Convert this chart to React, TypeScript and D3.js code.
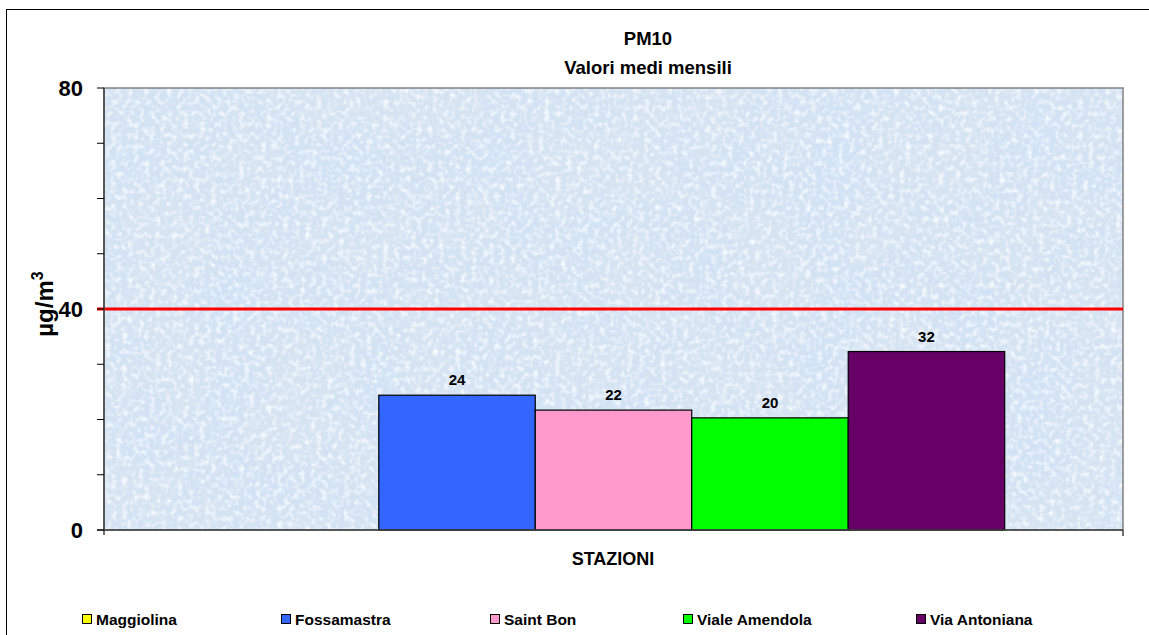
import React from "react";
import * as d3 from "d3";

const title1 = "PM10";
const title2 = "Valori medi mensili";
const categories = ["STAZIONI"];
const seriesNames = ["Maggiolina", "Fossamastra", "Saint Bon", "Viale Amendola", "Via Antoniana"];
const seriesValues: (number | null)[] = [null, 24.4, 21.7, 20.3, 32.3];
const seriesColors = ["#ffff00", "#3366ff", "#ff99cc", "#00ff00", "#660066"];
const yTicks = [0, 40, 80];
const yMinorTicks = [0, 10, 20, 30, 40, 50, 60, 70, 80];
const limitValue = 40;
const legendX = [82, 281, 490, 683, 916];

const W = 1149;
const H = 635;
const FONT = "'Liberation Sans', Arial, Helvetica, sans-serif";

export default function App() {
  const left = 104, right = 1123, top = 88, bottom = 530;
  const y = d3.scaleLinear().domain([0, 80]).range([bottom, top]);
  const x0 = d3.scaleBand<string>().domain(categories).range([left, right]);
  const x1 = d3
    .scaleBand<string>()
    .domain(seriesNames)
    .range([0, x0.bandwidth()])
    .paddingInner(0)
    .paddingOuter(0.756);

  return (
    <div style={{ position: "absolute", left: 0, top: 0 }}>
      <svg width={W} height={H} style={{ display: "block" }} fontFamily={FONT}>
        <defs>
          <filter id="tex" x="0" y="0" width="100%" height="100%">
            <feTurbulence type="fractalNoise" baseFrequency="0.18" numOctaves="2" seed="4" result="n1" />
            <feColorMatrix
              in="n1"
              type="matrix"
              values="0 0 0 0 1  0 0 0 0 1  0 0 0 0 1  0 0 0 2.0 -0.9"
              result="w"
            />
            <feTurbulence type="fractalNoise" baseFrequency="0.015" numOctaves="2" seed="9" result="n2" />
            <feColorMatrix
              in="n2"
              type="matrix"
              values="0 0 0 0 0.62  0 0 0 0 0.76  0 0 0 0 0.93  0 0 0 1.4 -0.55"
              result="b"
            />
            <feFlood floodColor="#d5e3f3" result="base" />
            <feComposite in="b" in2="base" operator="over" result="bb" />
            <feComposite in="w" in2="bb" operator="over" />
          </filter>
        </defs>
        <rect x={0} y={0} width={W} height={H} fill="#ffffff" />
        {/* outer chart frame */}
        <rect x={6.5} y={9.5} width={W + 20} height={H + 20} fill="none" stroke="#000" strokeWidth={1} />

        {/* title */}
        <text x={648} y={45} textAnchor="middle" fontSize={18.5} fontWeight="bold">{title1}</text>
        <text x={648} y={74} textAnchor="middle" fontSize={18.5} fontWeight="bold">{title2}</text>

        {/* plot area */}
        <rect x={left} y={top} width={right - left} height={bottom - top} fill="#d5e3f3" filter="url(#tex)" />
        <rect x={left} y={top} width={right - left} height={bottom - top} fill="none" stroke="#808080" strokeWidth={1.5} />

        {/* bars */}
        {seriesNames.map((s, i) => {
          const v = seriesValues[i];
          if (v == null) return null;
          const bx = (x0(categories[0]) ?? 0) + (x1(s) ?? 0);
          return (
            <rect
              key={s}
              x={bx}
              y={y(v)}
              width={x1.bandwidth()}
              height={y(0) - y(v)}
              fill={seriesColors[i]}
              stroke="#000"
              strokeWidth={1.2}
            />
          );
        })}
        {/* data labels */}
        {seriesNames.map((s, i) => {
          const v = seriesValues[i];
          if (v == null) return null;
          const bx = (x0(categories[0]) ?? 0) + (x1(s) ?? 0) + x1.bandwidth() / 2;
          return (
            <text key={s} x={bx} y={y(v) - 10} textAnchor="middle" fontSize={15} fontWeight="bold">
              {Math.round(v)}
            </text>
          );
        })}

        {/* limit line */}
        <line x1={left - 7} x2={right} y1={y(limitValue)} y2={y(limitValue)} stroke="#ff0000" strokeWidth={3} />

        {/* axes */}
        <line x1={left} x2={left} y1={top} y2={bottom + 5} stroke="#404040" strokeWidth={1.5} />
        <line x1={left - 7} x2={right} y1={bottom} y2={bottom} stroke="#404040" strokeWidth={1.5} />
        <line x1={right} x2={right} y1={bottom} y2={bottom + 6} stroke="#404040" strokeWidth={1.5} />
        {yMinorTicks.map((t) => (
          <line key={t} x1={left - 7} x2={left} y1={y(t)} y2={y(t)} stroke="#000" strokeWidth={1} />
        ))}
        {yTicks.map((t) => (
          <text key={t} x={83} y={y(t)} dy="0.36em" textAnchor="end" fontSize={22} fontWeight="bold">
            {t}
          </text>
        ))}

        {/* y axis title */}
        <text transform="translate(53,304) rotate(-90)" textAnchor="middle" fontSize={24} fontWeight="bold">
          µg/m<tspan dy={-10} fontSize={16}>3</tspan>
        </text>

        {/* x axis title */}
        <text x={613} y={565} textAnchor="middle" fontSize={18} fontWeight="bold">{categories[0]}</text>

        {/* legend */}
        {seriesNames.map((s, i) => (
          <g key={s} transform={`translate(${legendX[i]},619)`}>
            <rect x={0.5} y={-4.5} width={9} height={9} fill={seriesColors[i]} stroke="#000" strokeWidth={1} />
            <text x={14} y={0} dy="0.36em" fontSize={15.5} fontWeight="bold">{s}</text>
          </g>
        ))}
      </svg>
    </div>
  );
}
